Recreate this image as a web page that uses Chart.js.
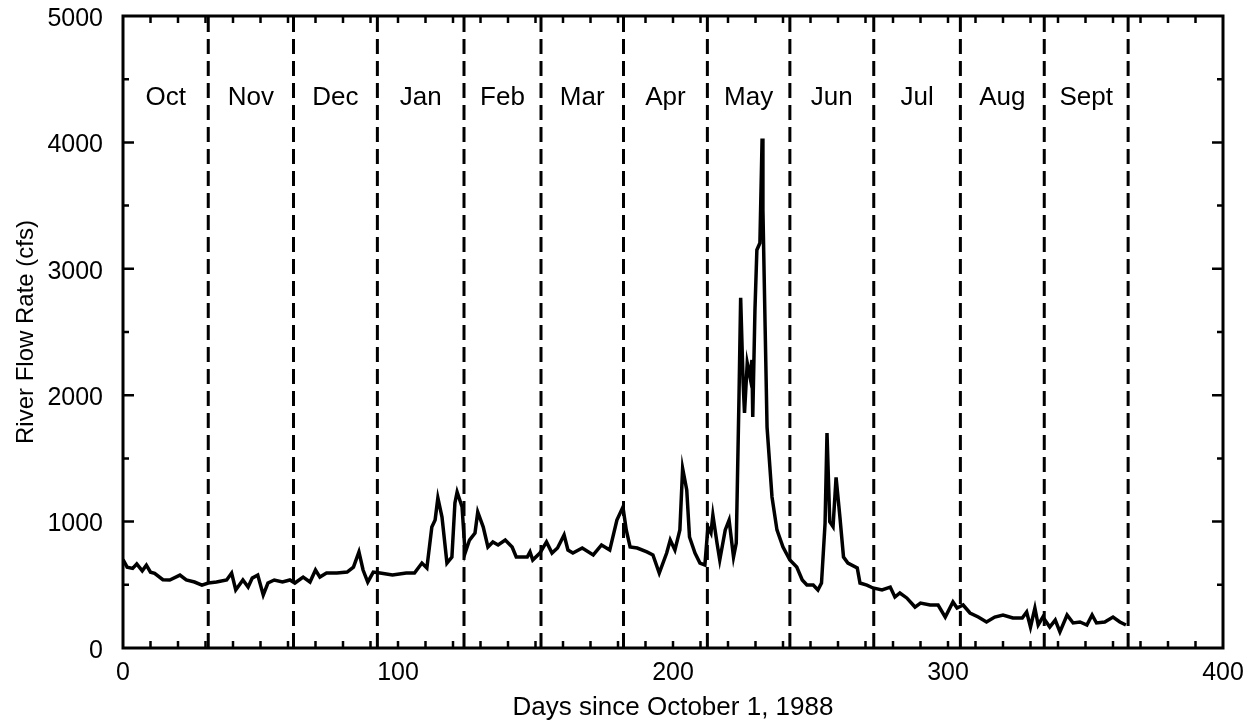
<!DOCTYPE html>
<html>
<head>
<meta charset="utf-8">
<title>River Flow Rate</title>
<script src="https://cdn.jsdelivr.net/npm/chart.js@4.4.1/dist/chart.umd.min.js"></script>
<style>
  html, body { margin: 0; padding: 0; background: #fff; }
  #box { width: 1260px; height: 727px; }
</style>
</head>
<body>
<div id="box"><canvas id="flowChart"></canvas></div>
<script>
// daily river flow (day since Oct 1, 1988 -> cfs)
const days = [
  0, 1.5, 3.5, 5, 7, 8.5, 10, 11.5, 14.5, 17, 20.7, 23, 26, 28.7, 31, 34, 37.7, 39.5, 41, 43.6,
  45.5, 47, 49, 51, 52.7, 55, 58, 60.7, 62.5, 65.5, 68, 70, 71.6, 74, 77.8, 81.5, 83.8, 85.8, 87.3, 89,
  91, 93.5, 98, 103, 106, 108.7, 110.5, 112.3, 113.5, 114.5, 116, 117.8, 119.6, 120.7, 121.5, 123.3, 124.4, 126, 128, 129,
  131, 132.7, 134.5, 136.4, 139, 141.5, 143, 147, 148, 149, 151.6, 154, 156, 158, 160.4, 161.8, 163.6, 167, 171, 174,
  177, 179.6, 181.8, 183, 184.4, 187, 190.5, 192.7, 195, 197.7, 199, 200.7, 202.5, 203.5, 205, 206, 208, 209.8, 211.6, 212.7,
  213.8, 214.5, 216, 217, 219, 220.4, 222, 223, 224, 224.6, 225.5, 226, 227, 228, 228.7, 229, 229.8, 230.5, 231.6, 232.4,
  232.7, 233.5, 234.2, 236, 237.8, 240, 242.5, 245, 247, 248.7, 251, 252.7, 254, 255.3, 256, 257, 258.2, 259.3, 260.7, 262,
  263.6, 267, 268, 270.5, 272.7, 276, 279, 280.7, 282.5, 285, 288, 290, 293.5, 296.4, 299, 301.8, 303.3, 305.5, 308, 311,
  314, 317, 320, 323.6, 327, 328.6, 330, 331.6, 332.8, 334.5, 337, 339, 340.7, 343.3, 345.5, 348, 350.5, 352.4, 354, 357,
  360, 362.5, 364.7
];
const flows = [
  700, 640, 630, 665, 610, 655, 600, 590, 540, 538, 577, 538, 522, 498, 514, 522, 538, 593, 459, 538,
  482, 553, 577, 419, 514, 538, 522, 538, 514, 561, 522, 617, 561, 593, 593, 601, 640, 760, 617, 522,
  601, 593, 577, 593, 593, 672, 633, 957, 1012, 1187, 1036, 672, 720, 1147, 1234, 1115, 751, 854, 910, 1076,
  957, 799, 839, 815, 854, 799, 720, 720, 760, 696, 751, 839, 751, 791, 894, 775, 751, 791, 736, 815,
  775, 1012, 1115, 934, 799, 791, 760, 736, 593, 751, 854, 775, 934, 1420, 1250, 878, 751, 672, 657, 957,
  910, 1052, 831, 696, 934, 1012, 720, 831, 1986, 2770, 2096, 1859, 2255, 2144, 2278, 1827, 2674, 3149, 3204, 4030,
  3465, 2540, 1748, 1195, 934, 799, 696, 640, 538, 498, 498, 459, 514, 988, 1700, 1000, 960, 1350, 1036, 720,
  672, 633, 514, 498, 475, 459, 482, 403, 435, 396, 324, 356, 340, 340, 245, 364, 316, 340, 277, 245,
  206, 245, 261, 237, 237, 285, 166, 316, 182, 245, 166, 221, 127, 261, 198, 206, 182, 261, 198, 206,
  245, 206, 182
];

const monthNames = ['Oct', 'Nov', 'Dec', 'Jan', 'Feb', 'Mar', 'Apr', 'May', 'Jun', 'Jul', 'Aug', 'Sept'];
const monthEnds = [31, 62, 92.5, 124, 152, 182, 212.5, 242.5, 273, 304.5, 335, 365.5];
const monthLabelFlow = 4350;

const xTickLabels = [0, 100, 200, 300, 400];
const yTickLabels = [0, 1000, 2000, 3000, 4000, 5000];

const FONT = '"Liberation Sans", Arial, Helvetica, sans-serif';
Chart.defaults.font.family = FONT;
Chart.defaults.color = '#000';

const flowData = days.map((d, i) => ({ x: d, y: flows[i] }));

const monthLines = monthEnds.map(d => ({
  data: [{ x: d, y: 0 }, { x: d, y: 5000 }],
  showLine: true,
  borderColor: '#000',
  borderWidth: 3,
  borderDash: [15, 7],
  pointRadius: 0
}));

// frame, inward tick marks and month names
const frame = {
  id: 'frame',
  afterDatasetsDraw(chart) {
    const { ctx, chartArea: a, scales: { x, y } } = chart;
    ctx.save();
    ctx.strokeStyle = '#000';
    ctx.lineWidth = 3;
    ctx.strokeRect(a.left, a.top, a.right - a.left, a.bottom - a.top);

    ctx.beginPath();
    for (let d = 10; d < 400; d += 10) {
      const px = x.getPixelForValue(d);
      ctx.moveTo(px, a.bottom); ctx.lineTo(px, a.bottom - 7);
      ctx.moveTo(px, a.top); ctx.lineTo(px, a.top + 7);
    }
    for (let v = 500; v < 5000; v += 500) {
      const py = y.getPixelForValue(v);
      const len = v % 1000 === 0 ? 11 : 6;
      ctx.moveTo(a.left, py); ctx.lineTo(a.left + len, py);
      ctx.moveTo(a.right, py); ctx.lineTo(a.right - len, py);
    }
    ctx.lineWidth = 2.5;
    ctx.stroke();

    ctx.font = '26px ' + FONT;
    ctx.fillStyle = '#000';
    ctx.textAlign = 'center';
    ctx.textBaseline = 'middle';
    let start = 0;
    monthNames.forEach((m, i) => {
      const mid = (start + monthEnds[i]) / 2;
      ctx.fillText(m, x.getPixelForValue(mid), y.getPixelForValue(monthLabelFlow));
      start = monthEnds[i];
    });
    ctx.restore();
  }
};

new Chart(document.getElementById('flowChart'), {
  type: 'scatter',
  data: {
    datasets: [
      {
        data: flowData,
        showLine: true,
        borderColor: '#000',
        borderWidth: 3.5,
        pointRadius: 0,
        tension: 0
      },
      ...monthLines
    ]
  },
  options: {
    responsive: true,
    maintainAspectRatio: false,
    animation: false,
    layout: { padding: { top: 16, right: 37, left: 0, bottom: 0 } },
    plugins: {
      legend: { display: false },
      tooltip: { enabled: false }
    },
    scales: {
      x: {
        type: 'linear',
        min: 0,
        max: 400,
        afterBuildTicks: s => { s.ticks = xTickLabels.map(v => ({ value: v })); },
        afterFit: s => { s.height = 79; s.paddingLeft = 0; s.paddingRight = 0; },
        grid: { display: false, drawTicks: false },
        border: { display: false },
        ticks: { font: { size: 25 }, padding: 10, color: '#000', maxRotation: 0, callback: v => String(v) },
        title: {
          display: true,
          text: 'Days since October 1, 1988',
          font: { size: 26 },
          color: '#000',
          padding: { top: 0, bottom: 4 }
        }
      },
      y: {
        min: 0,
        max: 5000,
        afterBuildTicks: s => { s.ticks = yTickLabels.map(v => ({ value: v })); },
        afterFit: s => { s.width = 123; s.paddingTop = 0; s.paddingBottom = 0; },
        grid: { display: false, drawTicks: false },
        border: { display: false },
        ticks: { font: { size: 25 }, padding: 20, color: '#000', labelOffset: 3, callback: v => String(v) },
        title: {
          display: true,
          text: 'River Flow Rate (cfs)',
          font: { size: 24 },
          color: '#000',
          padding: { top: 12, bottom: 0 }
        }
      }
    }
  },
  plugins: [frame]
});
</script>
</body>
</html>
